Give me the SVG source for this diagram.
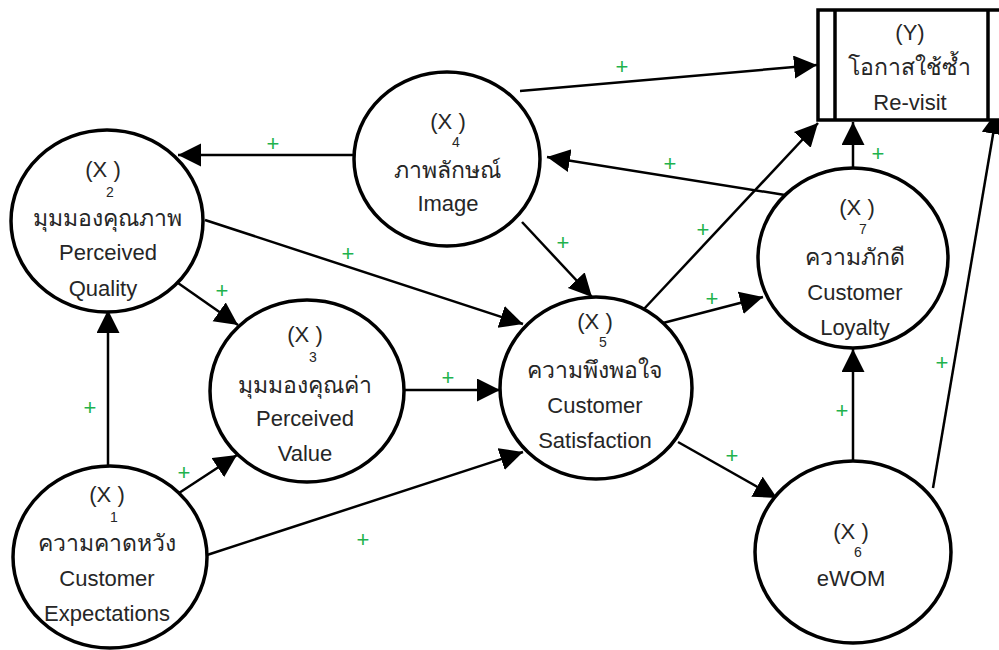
<svg xmlns="http://www.w3.org/2000/svg" width="999" height="650" viewBox="0 0 999 650">
<defs>
<marker id="ah" markerUnits="userSpaceOnUse" markerWidth="24" markerHeight="24" refX="23" refY="11.5" orient="auto" viewBox="0 0 24 24">
<path d="M0,0 L23,11.5 L0,23 z" fill="#000"/>
</marker>
</defs>
<style>
.node{fill:#fff;stroke:#000;stroke-width:3.5}
.t{font-family:"Liberation Sans","Noto Sans","DejaVu Sans",sans-serif;font-size:22px;fill:#262626;text-anchor:middle}
.th{font-size:23px}
.s{font-family:"Liberation Sans","Noto Sans","DejaVu Sans",sans-serif;font-size:14px;fill:#262626;text-anchor:middle}
.e{stroke:#000;stroke-width:2.5;fill:none;marker-end:url(#ah)}
.p{font-family:"Liberation Sans","DejaVu Sans",sans-serif;font-size:22px;fill:#22b24c;text-anchor:middle}
</style>
<rect width="999" height="650" fill="#fff"/>
<g id="connectors">
<line class="e" x1="353" y1="155" x2="178" y2="155"/>
<line class="e" x1="205" y1="220" x2="523" y2="324"/>
<line class="e" x1="178" y1="283" x2="238" y2="325"/>
<line class="e" x1="108" y1="466" x2="108" y2="310"/>
<line class="e" x1="179" y1="493" x2="237" y2="455"/>
<line class="e" x1="207" y1="555" x2="523" y2="452"/>
<line class="e" x1="405" y1="390" x2="500" y2="390"/>
<line class="e" x1="522" y1="222" x2="592" y2="297"/>
<line class="e" x1="520" y1="91" x2="817" y2="65"/>
<line class="e" x1="643" y1="310" x2="818" y2="123"/>
<line class="e" x1="785" y1="195" x2="547" y2="157"/>
<line class="e" x1="663" y1="323" x2="763" y2="297"/>
<line class="e" x1="853" y1="168" x2="853" y2="122"/>
<line class="e" x1="853" y1="462" x2="853" y2="349"/>
<line class="e" x1="678" y1="442" x2="777" y2="498"/>
<line class="e" x1="933" y1="488" x2="997" y2="111"/>
</g>
<g id="plus">
<text class="p" x="622" y="74">+</text>
<text class="p" x="273" y="151">+</text>
<text class="p" x="348" y="261">+</text>
<text class="p" x="222" y="298">+</text>
<text class="p" x="90" y="415">+</text>
<text class="p" x="184" y="480">+</text>
<text class="p" x="363" y="547">+</text>
<text class="p" x="448" y="385">+</text>
<text class="p" x="563" y="250">+</text>
<text class="p" x="670" y="171">+</text>
<text class="p" x="703" y="237">+</text>
<text class="p" x="712" y="306">+</text>
<text class="p" x="878" y="161">+</text>
<text class="p" x="732" y="463">+</text>
<text class="p" x="842" y="418">+</text>
<text class="p" x="942" y="370">+</text>
</g>
<g id="Y">
<rect class="node" x="818" y="10" width="192" height="110"/>
<line x1="835" y1="10" x2="835" y2="120" stroke="#000" stroke-width="3.5"/>
<line x1="988" y1="10" x2="988" y2="120" stroke="#000" stroke-width="3.5"/>
<text class="t" x="910" y="40">(Y)</text>
<text class="t th" x="909" y="75">โอกาสใช้ซ้ำ</text>
<text class="t" x="910" y="110">Re-visit</text>
</g>
<g id="X2">
<ellipse class="node" cx="107" cy="221" rx="96" ry="91"/>
<text class="t" x="103" y="177">(X )</text>
<text class="s" x="110" y="197">2</text>
<text class="t th" x="107" y="226">มุมมองคุณภาพ</text>
<text class="t" x="108" y="260">Perceived</text>
<text class="t" x="103" y="296">Quality</text>
</g>
<g id="X3">
<ellipse class="node" cx="307" cy="391" rx="97" ry="91"/>
<text class="t" x="305" y="342">(X )</text>
<text class="s" x="313" y="362">3</text>
<text class="t th" x="305" y="393">มุมมองคุณค่า</text>
<text class="t" x="305" y="426">Perceived</text>
<text class="t" x="305" y="461">Value</text>
</g>
<g id="X4">
<ellipse class="node" cx="447" cy="159" rx="93" ry="87"/>
<text class="t" x="448" y="129">(X )</text>
<text class="s" x="456" y="147">4</text>
<text class="t th" x="447" y="178">ภาพลักษณ์</text>
<text class="t" x="448" y="211">Image</text>
</g>
<g id="X5">
<ellipse class="node" cx="596" cy="388" rx="96" ry="91"/>
<text class="t" x="595" y="329">(X )</text>
<text class="s" x="603" y="347">5</text>
<text class="t th" x="594" y="378">ความพึงพอใจ</text>
<text class="t" x="595" y="413">Customer</text>
<text class="t" x="595" y="448">Satisfaction</text>
</g>
<g id="X7">
<ellipse class="node" cx="853" cy="258" rx="95" ry="90"/>
<text class="t" x="857" y="215">(X )</text>
<text class="s" x="863" y="234">7</text>
<text class="t th" x="855" y="265">ความภักดี</text>
<text class="t" x="855" y="300">Customer</text>
<text class="t" x="855" y="335">Loyalty</text>
</g>
<g id="X1">
<ellipse class="node" cx="110" cy="557" rx="97" ry="91"/>
<text class="t" x="107" y="502">(X )</text>
<text class="s" x="114" y="522">1</text>
<text class="t th" x="107" y="551">ความคาดหวัง</text>
<text class="t" x="107" y="586">Customer</text>
<text class="t" x="107" y="621">Expectations</text>
</g>
<g id="X6">
<ellipse class="node" cx="853" cy="552" rx="98" ry="91"/>
<text class="t" x="851" y="539">(X )</text>
<text class="s" x="858" y="557">6</text>
<text class="t" x="851" y="586">eWOM</text>
</g>
</svg>
